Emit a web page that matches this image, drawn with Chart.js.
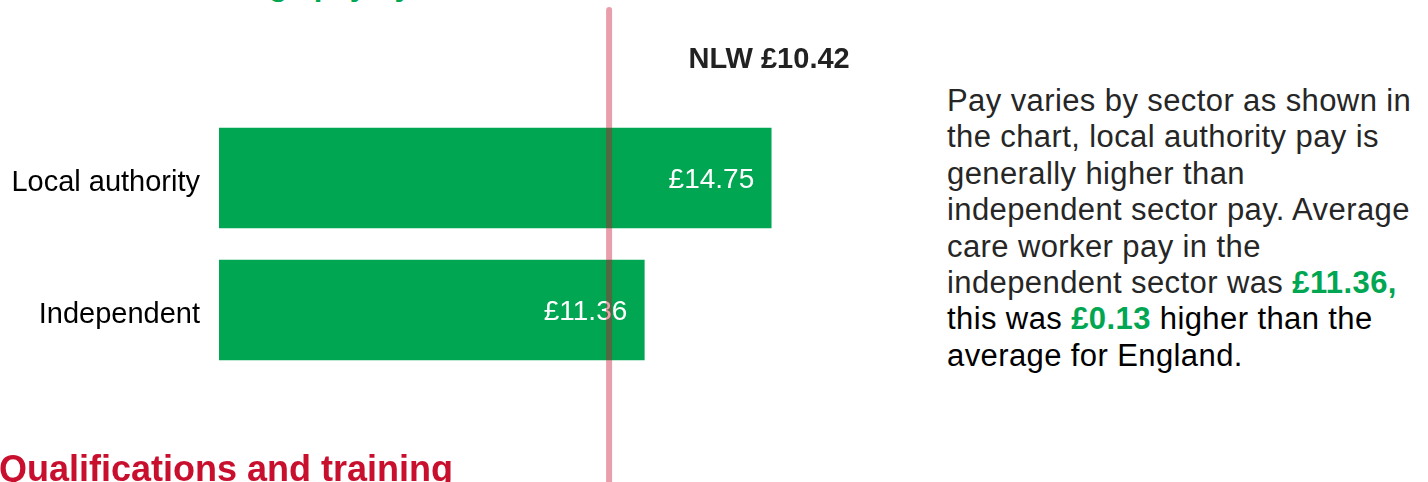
<!DOCTYPE html>
<html>
<head>
<meta charset="utf-8">
<script src="https://cdn.jsdelivr.net/npm/chart.js@4"></script>
<style>
  body { margin: 0; background: #fff; }
  #wrap { position: relative; width: 1428px; height: 482px; overflow: hidden; font-family: "Liberation Sans", Arial, sans-serif; }
  #chartBox { position: absolute; left: 0; top: 0; width: 940px; height: 482px; }
  .heading { position: absolute; left: 0; font-weight: bold; white-space: nowrap; line-height: 1; }
  #topTitle { top: -31px; font-size: 31px; color: #00a651; }
  #sectionTitle { top: 451px; left: -1px; font-size: 36px; color: #c8102e; }
  #note { position: absolute; left: 947px; top: 83px; font-size: 31px; line-height: 36.4px; letter-spacing: 0.4px; color: #262626; white-space: nowrap; }
  #note .hl { color: #00a651; font-weight: bold; }
  #note .dark { color: #000; }
</style>
</head>
<body>
<div id="wrap">
  <div id="topTitle" class="heading">Care worker average pay by sector</div>
  <div id="chartBox"><canvas id="payChart"></canvas></div>
  <div id="note">
    Pay varies by sector as shown in<br>
    the chart, local authority pay is<br>
    generally higher than<br>
    independent sector pay. Average<br>
    care worker pay in the<br>
    independent sector was <span class="hl">£11.36,</span><br>
    <span class="dark">this was <span class="hl">£0.13</span> higher than the</span><br>
    <span class="dark">average for England.</span>
  </div>
  <div id="sectionTitle" class="heading">Qualifications and training</div>
</div>
<script>
// données du graphique
const sectors = ['Local authority', 'Independent'];
const hourlyPay = [14.75, 11.36];
const nlwValue = 10.42;
const nlwLabel = 'NLW £10.42';

const green = '#00a651';
const fontFamily = "'Liberation Sans', Arial, sans-serif";

// étiquettes de valeur dans les barres
const valueLabels = {
    id: 'valueLabels',
    afterDatasetsDraw(chart) {
        const ctx = chart.ctx;
        const meta = chart.getDatasetMeta(0);
        ctx.save();
        ctx.font = '28px ' + fontFamily;
        ctx.fillStyle = '#ffffff';
        ctx.textAlign = 'right';
        ctx.textBaseline = 'middle';
        meta.data.forEach((bar, i) => {
            ctx.fillText('£' + hourlyPay[i].toFixed(2), bar.x - 17, bar.y + 2);
        });
        ctx.restore();
    }
};

// ligne verticale du salaire minimum (NLW)
const nlwLine = {
    id: 'nlwLine',
    afterDraw(chart) {
        const ctx = chart.ctx;
        const x = chart.scales.x.getPixelForValue(nlwValue);
        ctx.save();
        ctx.strokeStyle = 'rgba(200, 16, 46, 0.4)';
        ctx.lineWidth = 6;
        ctx.lineCap = 'round';
        ctx.beginPath();
        ctx.moveTo(x, 10);
        ctx.lineTo(x, chart.height + 10);
        ctx.stroke();
        ctx.font = 'bold 29px ' + fontFamily;
        ctx.fillStyle = '#222222';
        ctx.textAlign = 'center';
        ctx.textBaseline = 'alphabetic';
        ctx.fillText(nlwLabel, x + 160, 68);
        ctx.restore();
    }
};

const ctx = document.getElementById('payChart').getContext('2d');

new Chart(ctx, {
    type: 'bar',
    data: {
        labels: sectors,
        datasets: [{
            data: hourlyPay,
            backgroundColor: green,
            borderWidth: 0,
            barThickness: 100
        }]
    },
    options: {
        indexAxis: 'y',
        responsive: true,
        maintainAspectRatio: false,
        animation: false,
        layout: { padding: { top: 112, bottom: 106, left: 0, right: 122 } },
        plugins: {
            legend: { display: false },
            tooltip: { enabled: false }
        },
        scales: {
            x: {
                min: 0,
                max: 16,
                display: false
            },
            y: {
                grid: { display: false, drawTicks: false },
                border: { display: false },
                ticks: {
                    color: '#000000',
                    padding: 19,
                    labelOffset: 5,
                    font: { family: fontFamily, size: 29 }
                },
                afterFit(scale) { scale.width = 219; }
            }
        }
    },
    plugins: [valueLabels, nlwLine]
});
</script>
</body>
</html>
